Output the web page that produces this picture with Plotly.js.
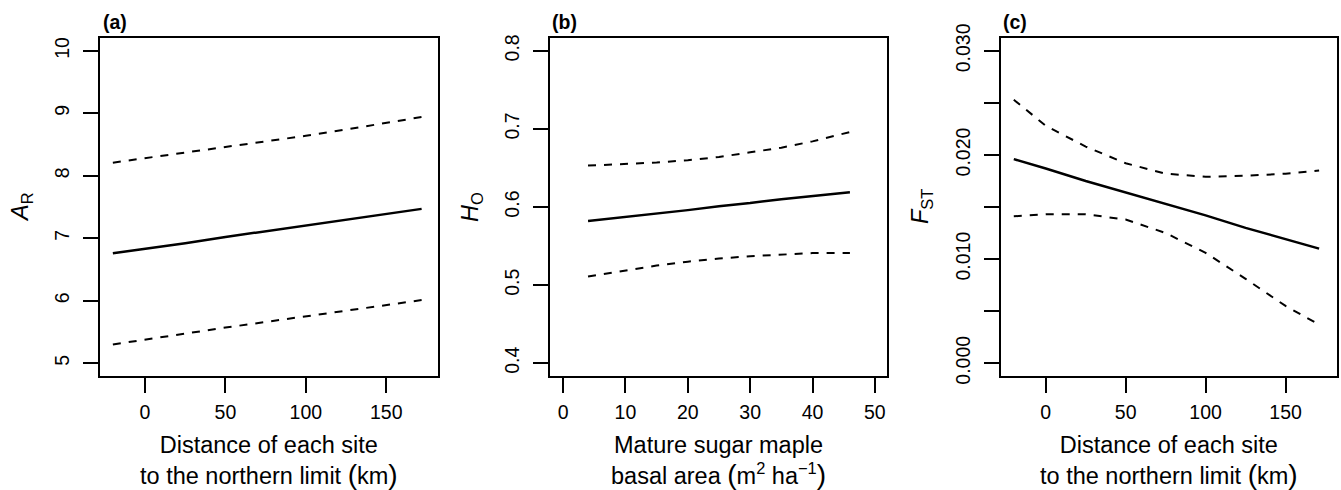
<!DOCTYPE html>
<html>
<head>
<meta charset="utf-8">
<script src="https://cdn.plot.ly/plotly-3.0.1.min.js"></script>
<style>html,body{margin:0;padding:0;background:#fff;}#chart{width:1341px;height:490px;}</style>
</head>
<body>
<div id="chart"></div>
<script>
// Panel (a): allelic richness vs distance to northern limit
const distA = [-20, 0, 25, 50, 75, 100, 125, 150, 172];
const arFit = [6.76, 6.83, 6.92, 7.02, 7.11, 7.20, 7.29, 7.39, 7.47];
const arUpper = [8.21, 8.28, 8.37, 8.46, 8.55, 8.64, 8.74, 8.84, 8.94];
const arLower = [5.30, 5.38, 5.47, 5.57, 5.66, 5.75, 5.84, 5.93, 6.01];

// Panel (b): observed heterozygosity vs sugar maple basal area
const basal = [4, 10, 15, 20, 25, 30, 35, 40, 46];
const hoFit = [0.582, 0.587, 0.592, 0.596, 0.601, 0.605, 0.610, 0.614, 0.619];
const hoUpper = [0.653, 0.655, 0.657, 0.660, 0.664, 0.670, 0.676, 0.684, 0.696];
const hoLower = [0.511, 0.519, 0.525, 0.530, 0.534, 0.537, 0.539, 0.541, 0.541];

// Panel (c): FST vs distance to northern limit
const distC = [-20, 0, 25, 50, 75, 100, 125, 150, 171];
const fstFit = [0.0196, 0.0187, 0.0175, 0.0164, 0.0153, 0.0142, 0.0130, 0.0119, 0.0110];
const fstUpper = [0.0253, 0.0228, 0.0208, 0.0192, 0.0182, 0.0179, 0.0180, 0.0182, 0.0185];
const fstLower = [0.0141, 0.0143, 0.0143, 0.0138, 0.0125, 0.0106, 0.0081, 0.0055, 0.0037];

const ticksA = [5, 6, 7, 8, 9, 10];
const ticksB = [0.4, 0.5, 0.6, 0.7, 0.8];
const ticksC = [0.000, 0.010, 0.020, 0.030];
const minorStepC = 0.005;
const xTicksDist = [0, 50, 100, 150];
const xTicksBasal = [0, 10, 20, 30, 40, 50];
const panelLabels = ['(a)', '(b)', '(c)'];

const W = 1341, H = 490;
const FONT = 'Liberation Sans, Arial, Helvetica, sans-serif';
const boxTop = 38.3, boxBottom = 375.7;
const panels = [
  {l: 100, r: 437.7},
  {l: 550, r: 886.7},
  {l: 1001, r: 1336.7}
];
const yDom = [(H - boxBottom) / H, (H - boxTop) / H];

function fitTrace(x, y, ax, dash) {
  return {
    x: x, y: y, xaxis: 'x' + ax, yaxis: 'y' + ax,
    type: 'scatter', mode: 'lines', showlegend: false, hoverinfo: 'skip',
    line: dash ? {color: '#000', width: 2, dash: '8px,8px'} : {color: '#000', width: 2.5}
  };
}

const data = [
  fitTrace(distA, arFit, '', false),
  fitTrace(distA, arUpper, '', true),
  fitTrace(distA, arLower, '', true),
  fitTrace(basal, hoFit, '2', false),
  fitTrace(basal, hoUpper, '2', true),
  fitTrace(basal, hoLower, '2', true),
  fitTrace(distC, fstFit, '3', false),
  fitTrace(distC, fstUpper, '3', true),
  fitTrace(distC, fstLower, '3', true)
];

const TICKFONT = {family: FONT, size: 19.5, color: '#000'};
function xAxis(i, range, tickvals, anchor) {
  return {
    domain: [panels[i].l / W, panels[i].r / W], range: range, anchor: anchor,
    tickmode: 'array', tickvals: tickvals, ticks: 'outside', ticklen: 15, tickwidth: 2, tickcolor: '#000',
    showline: true, mirror: true, linecolor: '#000', linewidth: 2,
    showgrid: false, zeroline: false, tickfont: TICKFONT,
    ticklabelstandoff: 3
  };
}
function yAxis(i, range, tickvals, ticktext, anchor) {
  return {
    domain: yDom, range: range, anchor: anchor,
    tickmode: 'array', tickvals: tickvals, ticktext: ticktext, ticks: 'outside', ticklen: 15, tickwidth: 2, tickcolor: '#000',
    showline: true, mirror: true, linecolor: '#000', linewidth: 2, tickangle: -90,
    showgrid: false, zeroline: false, tickfont: TICKFONT,
    ticklabelstandoff: 6
  };
}

function ann(x, y, text, opts) {
  return Object.assign({
    xref: 'paper', yref: 'paper', x: x / W, y: (H - y) / H, text: text, showarrow: false,
    font: {family: FONT, size: 23.5, color: '#000'}, xanchor: 'center', yanchor: 'middle'
  }, opts || {});
}

const P = s => '<span style="font-size:28px">' + s + '</span>';
const distTitle = 'Distance of each site<br>to the northern limit ' + P('(') + 'km' + P(')');
const basalTitle = 'Mature sugar maple<br>basal area ' + P('(') + 'm<sup>2</sup> ha<sup>\u22121</sup>' + P(')');

const yC = yAxis(2, [-0.0012, 0.0312], ticksC, ticksC.map(v => v.toFixed(3)), 'x3');
yC.minor = {tick0: 0, dtick: minorStepC, ticks: 'outside', ticklen: 15, tickwidth: 2, tickcolor: '#000', showgrid: false};

const labelFont = {family: FONT, size: 19.5, color: '#000'};
const layout = {
  width: W, height: H, margin: {l: 0, r: 0, t: 0, b: 0},
  paper_bgcolor: '#fff', plot_bgcolor: '#fff', showlegend: false,
  xaxis: xAxis(0, [-28, 182], xTicksDist, 'y'),
  yaxis: yAxis(0, [4.8, 10.2], ticksA, ticksA.map(String), 'x'),
  xaxis2: xAxis(1, [-2.1, 51.9], xTicksBasal, 'y2'),
  yaxis2: yAxis(1, [0.384, 0.816], ticksB, ticksB.map(v => v.toFixed(1)), 'x2'),
  xaxis3: xAxis(2, [-28, 182], xTicksDist, 'y3'),
  yaxis3: yC,
  annotations: [
    ann(101, 22, '<b>' + panelLabels[0] + '</b>', {xanchor: 'left', font: labelFont}),
    ann(550, 22, '<b>' + panelLabels[1] + '</b>', {xanchor: 'left', font: labelFont}),
    ann(1001, 22, '<b>' + panelLabels[2] + '</b>', {xanchor: 'left', font: labelFont}),
    ann(268.8, 461, distTitle),
    ann(718.3, 461, basalTitle),
    ann(1168.8, 461, distTitle),
    ann(22, 207, '<i>A</i><sub>R</sub>', {textangle: -90}),
    ann(472, 207, '<i>H</i><sub>O</sub>', {textangle: -90}),
    ann(922, 207, '<i>F</i><sub>ST</sub>', {textangle: -90})
  ]
};

Plotly.newPlot('chart', data, layout, {staticPlot: true, displayModeBar: false});
</script>
</body>
</html>
